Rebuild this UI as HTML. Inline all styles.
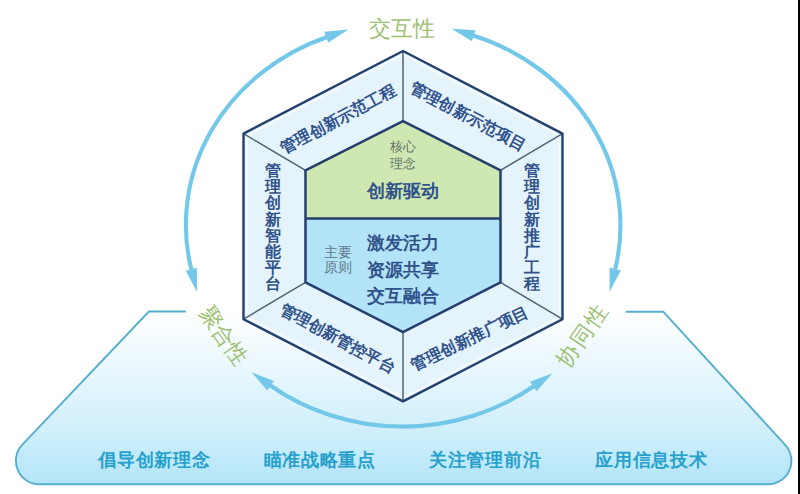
<!DOCTYPE html>
<html><head><meta charset="utf-8"><style>
html,body{margin:0;padding:0;background:#fff;width:800px;height:494px;overflow:hidden}
svg{display:block;font-family:'Liberation Sans', sans-serif}
</style></head><body>
<svg width="800" height="494" viewBox="0 0 800 494">
<defs>
<linearGradient id="trap" x1="0" y1="311" x2="0" y2="485" gradientUnits="userSpaceOnUse">
<stop offset="0" stop-color="#ffffff"/>
<stop offset="0.3" stop-color="#ebf8fd"/>
<stop offset="0.65" stop-color="#d3f0fb"/>
<stop offset="1" stop-color="#b3e5f8"/>
</linearGradient>
<marker id="ah" markerUnits="userSpaceOnUse" markerWidth="30" markerHeight="30" refX="0" refY="6" orient="auto" viewBox="0 0 30 12" overflow="visible">
<path d="M-0.8,0.2 L22.5,6 L-0.8,11.8 z" fill="#73c8e9"/>
</marker>
<marker id="ahs" markerUnits="userSpaceOnUse" markerWidth="30" markerHeight="30" refX="0" refY="6" orient="auto-start-reverse" viewBox="0 0 30 12" overflow="visible">
<path d="M-0.8,0.2 L22.5,6 L-0.8,11.8 z" fill="#73c8e9"/>
</marker>
</defs>
<rect x="0" y="0" width="800" height="494" fill="#ffffff"/>
<path d="M148.9,311.5 L22.38,444.61 A23.5,23.5 0 0 0 39.42,484.3 L767.89,484.3 A23.5,23.5 0 0 0 785.21,444.94 L663.2,311.7 Z" fill="url(#trap)"/>
<path d="M185.8,311.5 L148.9,311.5 L22.38,444.61 A23.5,23.5 0 0 0 39.42,484.3 L767.89,484.3 A23.5,23.5 0 0 0 785.21,444.94 L663.2,311.7 L625.7,311.7" fill="none" stroke="#56aecd" stroke-width="1.9" stroke-linejoin="round"/>
<path d="M327,37 A218,200.7 0 0 0 191.5,270" fill="none" stroke="#73c8e9" stroke-width="4.1" marker-start="url(#ahs)" marker-end="url(#ah)"/>
<path d="M473,35.5 A218,200.7 0 0 1 615,270" fill="none" stroke="#73c8e9" stroke-width="4.1" marker-start="url(#ahs)" marker-end="url(#ah)"/>
<path d="M270,385.2 A218,200.7 0 0 0 534,386" fill="none" stroke="#73c8e9" stroke-width="4.1" marker-start="url(#ahs)" marker-end="url(#ah)"/>
<polygon points="403,51 562.5,133.6 562.5,319.2 403,401.4 243.5,319.2 243.5,133.6" fill="#e5f3fb"/>
<polygon points="403,121.2 500.5,170.3 500.5,218.6 305.5,218.6 305.5,170.3" fill="#cfe8b1"/>
<polygon points="305.5,218.6 500.5,218.6 500.5,282.4 403,332.2 305.5,282.4" fill="#b3e3f6"/>
<polygon points="403,54.584 559.3,135.55519999999999 559.3,317.2448 403,397.816 246.7,317.2448 246.7,135.55519999999999" fill="none" stroke="#f6fbfe" stroke-width="1.6" stroke-linejoin="round"/>
<line x1="403" y1="51" x2="403" y2="121.2" stroke="#4f6378" stroke-width="1.5"/>
<line x1="562.5" y1="133.6" x2="500.5" y2="170.3" stroke="#4f6378" stroke-width="1.5"/>
<line x1="562.5" y1="319.2" x2="500.5" y2="282.4" stroke="#4f6378" stroke-width="1.5"/>
<line x1="403" y1="401.4" x2="403" y2="332.2" stroke="#4f6378" stroke-width="1.5"/>
<line x1="243.5" y1="319.2" x2="305.5" y2="282.4" stroke="#4f6378" stroke-width="1.5"/>
<line x1="243.5" y1="133.6" x2="305.5" y2="170.3" stroke="#4f6378" stroke-width="1.5"/>
<polygon points="403,51 562.5,133.6 562.5,319.2 403,401.4 243.5,319.2 243.5,133.6" fill="none" stroke="#243f6e" stroke-width="2.4" stroke-linejoin="round"/>
<polygon points="403,121.2 500.5,170.3 500.5,282.4 403,332.2 305.5,282.4 305.5,170.3" fill="none" stroke="#243f6e" stroke-width="2.5" stroke-linejoin="round"/>
<line x1="305.5" y1="218.6" x2="500.5" y2="218.6" stroke="#243f6e" stroke-width="2.5"/>
<text x="402" y="28.5" font-size="22.4" fill="#9cc070" font-weight="normal" text-anchor="middle" dominant-baseline="central">交互性</text>
<text x="223.6" y="335.5" font-size="22" fill="#9cc070" font-weight="normal" text-anchor="middle" dominant-baseline="central" transform="rotate(55 223.6 335.5)">聚合性</text>
<text x="582.6" y="334.9" font-size="22" fill="#9cc070" font-weight="normal" text-anchor="middle" dominant-baseline="central" letter-spacing="2" transform="rotate(-55.5 582.6 334.9)">协同性</text>
<text x="338.2" y="118.8" font-size="16" fill="#30528a" font-weight="bold" text-anchor="middle" dominant-baseline="central" transform="rotate(-28 338.2 118.8)">管理创新示范工程</text>
<text x="468.3" y="116.5" font-size="16" fill="#30528a" font-weight="bold" text-anchor="middle" dominant-baseline="central" transform="rotate(28.2 468.3 116.5)">管理创新示范项目</text>
<text x="337.9" y="338.2" font-size="16" fill="#30528a" font-weight="bold" text-anchor="middle" dominant-baseline="central" transform="rotate(28.4 337.9 338.2)">管理创新管控平台</text>
<text x="469.8" y="338.3" font-size="16" fill="#30528a" font-weight="bold" text-anchor="middle" dominant-baseline="central" transform="rotate(-25.6 469.8 338.3)">管理创新推广项目</text>
<text x="273.4" y="170.4" font-size="16" fill="#30528a" font-weight="bold" text-anchor="middle" dominant-baseline="central">管</text>
<text x="273.4" y="186.6" font-size="16" fill="#30528a" font-weight="bold" text-anchor="middle" dominant-baseline="central">理</text>
<text x="273.4" y="202.8" font-size="16" fill="#30528a" font-weight="bold" text-anchor="middle" dominant-baseline="central">创</text>
<text x="273.4" y="219.0" font-size="16" fill="#30528a" font-weight="bold" text-anchor="middle" dominant-baseline="central">新</text>
<text x="273.4" y="235.2" font-size="16" fill="#30528a" font-weight="bold" text-anchor="middle" dominant-baseline="central">智</text>
<text x="273.4" y="251.4" font-size="16" fill="#30528a" font-weight="bold" text-anchor="middle" dominant-baseline="central">能</text>
<text x="273.4" y="267.6" font-size="16" fill="#30528a" font-weight="bold" text-anchor="middle" dominant-baseline="central">平</text>
<text x="273.4" y="283.8" font-size="16" fill="#30528a" font-weight="bold" text-anchor="middle" dominant-baseline="central">台</text>
<text x="532" y="170.4" font-size="16" fill="#30528a" font-weight="bold" text-anchor="middle" dominant-baseline="central">管</text>
<text x="532" y="186.6" font-size="16" fill="#30528a" font-weight="bold" text-anchor="middle" dominant-baseline="central">理</text>
<text x="532" y="202.8" font-size="16" fill="#30528a" font-weight="bold" text-anchor="middle" dominant-baseline="central">创</text>
<text x="532" y="219.0" font-size="16" fill="#30528a" font-weight="bold" text-anchor="middle" dominant-baseline="central">新</text>
<text x="532" y="235.2" font-size="16" fill="#30528a" font-weight="bold" text-anchor="middle" dominant-baseline="central">推</text>
<text x="532" y="251.4" font-size="16" fill="#30528a" font-weight="bold" text-anchor="middle" dominant-baseline="central">广</text>
<text x="532" y="267.6" font-size="16" fill="#30528a" font-weight="bold" text-anchor="middle" dominant-baseline="central">工</text>
<text x="532" y="283.8" font-size="16" fill="#30528a" font-weight="bold" text-anchor="middle" dominant-baseline="central">程</text>
<text x="403" y="146.6" font-size="13.3" fill="#5f706c" font-weight="normal" text-anchor="middle" dominant-baseline="central">核心</text>
<text x="403" y="163.2" font-size="13.3" fill="#5f706c" font-weight="normal" text-anchor="middle" dominant-baseline="central">理念</text>
<text x="403.2" y="190.6" font-size="18.2" fill="#30528a" font-weight="bold" text-anchor="middle" dominant-baseline="central">创新驱动</text>
<text x="337.7" y="252.2" font-size="13.8" fill="#5f7788" font-weight="normal" text-anchor="middle" dominant-baseline="central">主要</text>
<text x="337.7" y="267.2" font-size="13.8" fill="#5f7788" font-weight="normal" text-anchor="middle" dominant-baseline="central">原则</text>
<text x="403" y="242.5" font-size="17.5" fill="#30528a" font-weight="bold" text-anchor="middle" dominant-baseline="central">激发活力</text>
<text x="403" y="270" font-size="17.5" fill="#30528a" font-weight="bold" text-anchor="middle" dominant-baseline="central">资源共享</text>
<text x="403" y="296" font-size="17.5" fill="#30528a" font-weight="bold" text-anchor="middle" dominant-baseline="central">交互融合</text>
<text x="154.4" y="459.5" font-size="18" fill="#26a0cc" font-weight="bold" text-anchor="middle" dominant-baseline="central" letter-spacing="0.7">倡导创新理念</text>
<text x="319.7" y="459.5" font-size="18" fill="#26a0cc" font-weight="bold" text-anchor="middle" dominant-baseline="central" letter-spacing="0.7">瞄准战略重点</text>
<text x="485.2" y="459.5" font-size="18" fill="#26a0cc" font-weight="bold" text-anchor="middle" dominant-baseline="central" letter-spacing="0.7">关注管理前沿</text>
<text x="651.4" y="459.5" font-size="18" fill="#26a0cc" font-weight="bold" text-anchor="middle" dominant-baseline="central" letter-spacing="0.7">应用信息技术</text>
<rect x="798" y="0" width="2" height="494" fill="#000"/>
</svg>
</body></html>
